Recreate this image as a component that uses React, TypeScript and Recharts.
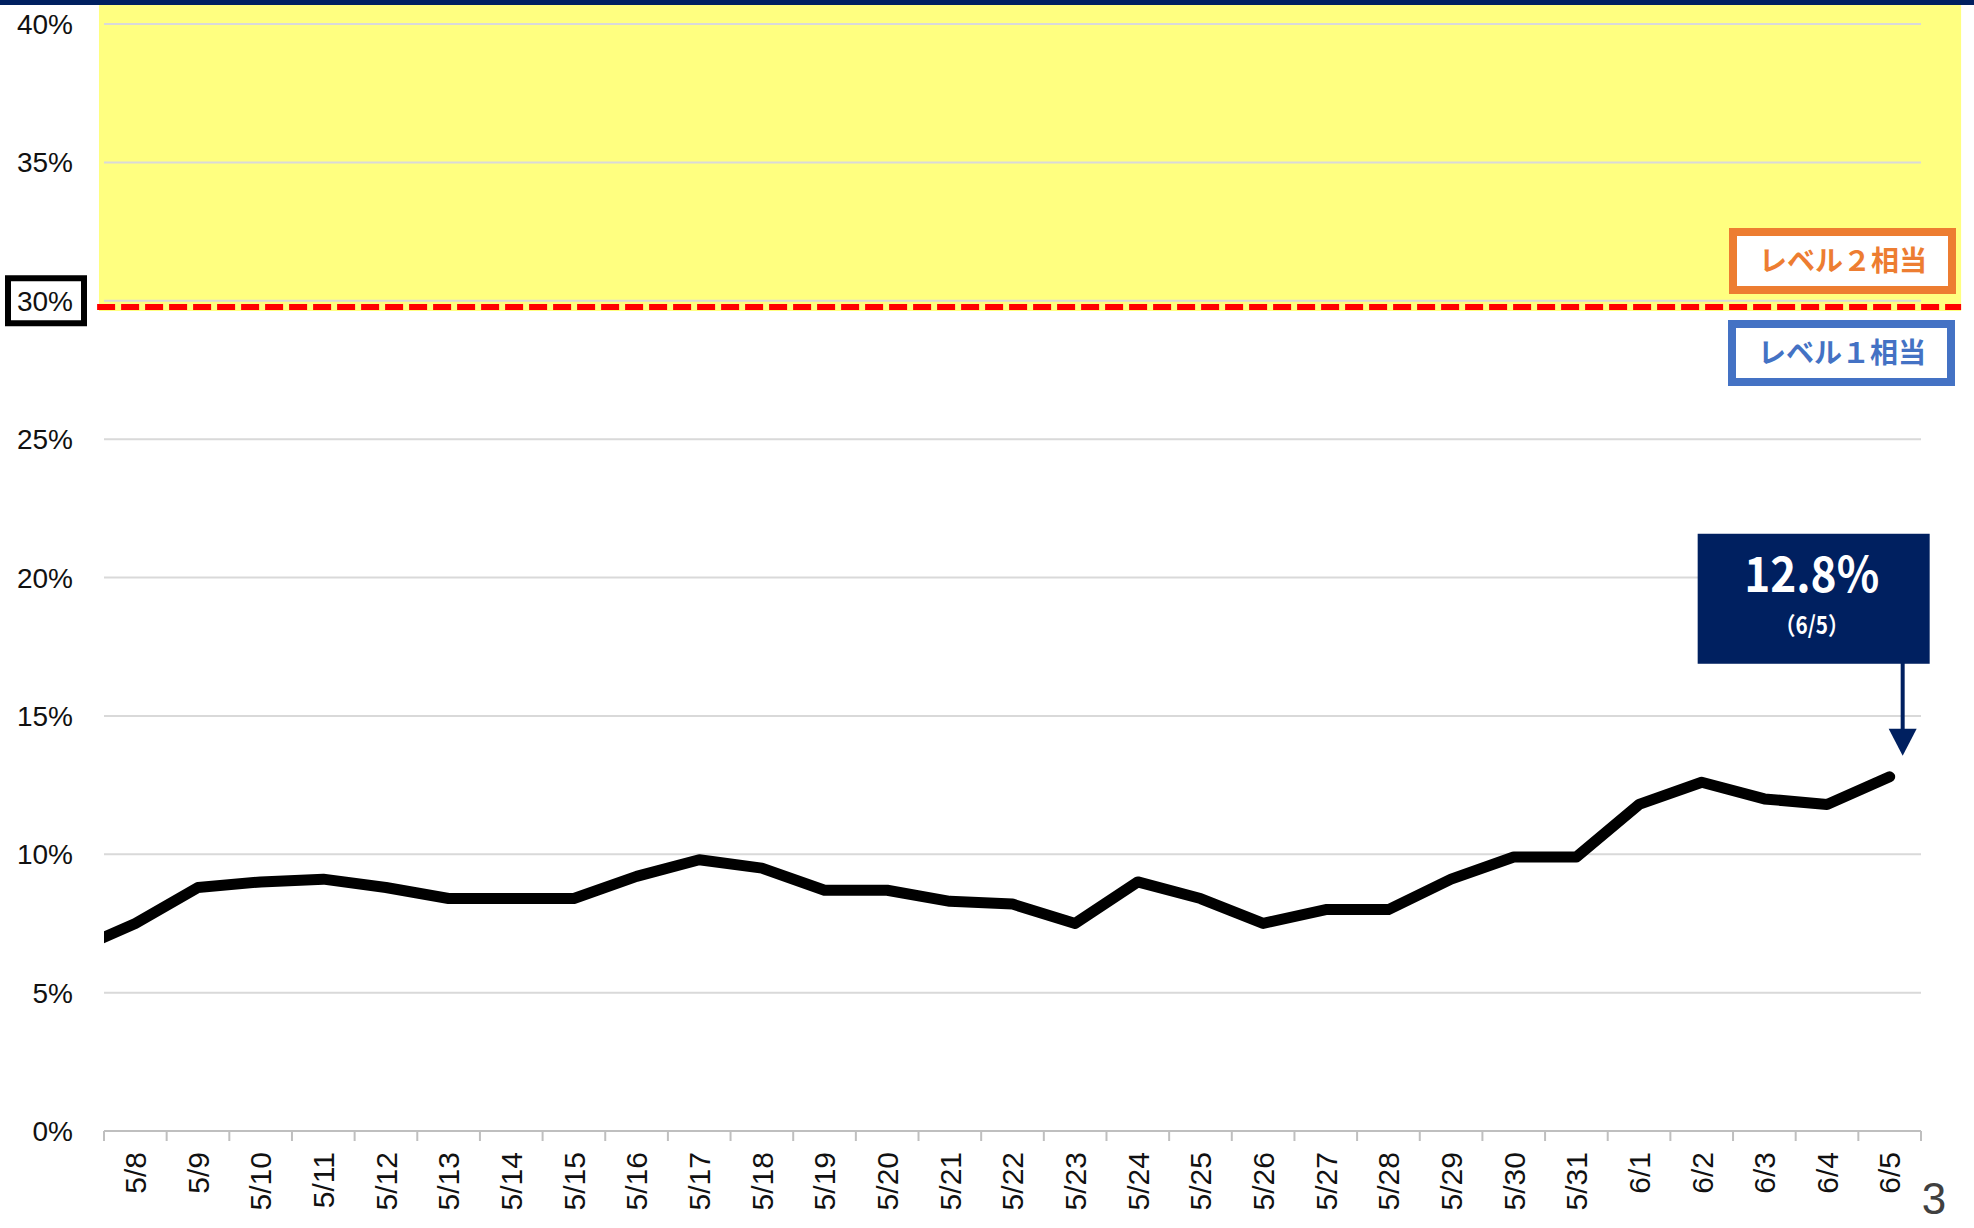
import {
  CartesianGrid,
  Line,
  LineChart,
  ReferenceArea,
  ReferenceDot,
  ReferenceLine,
  XAxis,
  YAxis,
} from 'recharts';

// first entry (5/7) sits just off the left edge; only its segment shows
const dates = [
  '5/7', '5/8', '5/9', '5/10', '5/11', '5/12', '5/13', '5/14', '5/15', '5/16',
  '5/17', '5/18', '5/19', '5/20', '5/21', '5/22', '5/23', '5/24', '5/25', '5/26',
  '5/27', '5/28', '5/29', '5/30', '5/31', '6/1', '6/2', '6/3', '6/4', '6/5',
];
const rates = [
  6.5, 7.5, 8.8, 9.0, 9.1, 8.8, 8.4, 8.4, 8.4, 9.2,
  9.8, 9.5, 8.7, 8.7, 8.3, 8.2, 7.5, 9.0, 8.4, 7.5,
  8.0, 8.0, 9.1, 9.9, 9.9, 11.8, 12.6, 12.0, 11.8, 12.8,
];
const yTicks = [0, 5, 10, 15, 20, 25, 30, 35, 40];
const boxedTick = 30;
const level2Label = 'レベル２相当';
const level1Label = 'レベル１相当';
const latestValue = '12.8%';
const latestDate = '（6/5）';
const pageNo = '3';

const W = 1974;
const H = 1228;
const Y_W = 104;
const X_H = 97;
const MARGIN = { top: 24, right: 53, bottom: 0, left: 0 };
const BAND = (W - Y_W - MARGIN.right) / (dates.length - 1);

const NAVY = '#002060';
const GRID = '#D9D9D9';
const AXIS_FONT = '"Liberation Sans", Arial, sans-serif';
const JP_FONT = '"Noto Sans CJK JP", "Noto Sans", sans-serif';

const data = dates.map((d, i) => ({ idx: i, date: d, rate: rates[i] }));
// tick marks sit on band edges, labels in the middle of each band
const xTicks = dates.map((_, i) => i + 0.5);

function YTick({ x, y, payload }: any) {
  const boxed = payload.value === boxedTick;
  return (
    <g>
      {boxed && (
        <rect x={x - 65} y={y - 22.5} width={76} height={45} fill="#fff" stroke="#000" strokeWidth={6} />
      )}
      <text x={x} y={y} dy="0.36em" textAnchor="end" fontFamily={AXIS_FONT} fontSize={28} fill="#111">
        {payload.value}%
      </text>
    </g>
  );
}

function XTick({ x, y, payload }: any) {
  const i = Math.round(payload.value + 0.5);
  if (i >= dates.length) return null;
  const cx = x + BAND / 2;
  return (
    <text
      x={cx}
      y={y}
      dy="0.36em"
      transform={`rotate(-90 ${cx} ${y})`}
      textAnchor="end"
      fontFamily={AXIS_FONT}
      fontSize={30}
      fill="#111"
    >
      {dates[i]}
    </text>
  );
}

function Callout({ cx, cy }: any) {
  const ax = cx + 13;
  const tx = cx - 78;
  return (
    <g>
      <rect x={cx - 192} y={cy - 243} width={232} height={130} fill={NAVY} />
      <line x1={ax} y1={cy - 114} x2={ax} y2={cy - 46} stroke={NAVY} strokeWidth={4} />
      <polygon points={`${ax - 14},${cy - 48} ${ax + 14},${cy - 48} ${ax},${cy - 21}`} fill={NAVY} />
      <text x={tx} y={cy - 185} textAnchor="middle" fill="#fff" fontFamily={JP_FONT} fontSize={48} fontWeight={700} textLength={135} lengthAdjust="spacingAndGlyphs">
        {latestValue}
      </text>
      <text x={tx} y={cy - 143} textAnchor="middle" fill="#fff" fontFamily={JP_FONT} fontSize={24} fontWeight={700} textLength={74} lengthAdjust="spacingAndGlyphs">
        {latestDate}
      </text>
    </g>
  );
}

function LevelBox({ x, y, color, label }: { x: number; y: number; color: string; label: string }) {
  return (
    <g>
      <rect x={x + 4} y={y + 4} width={219} height={58} fill="#fff" stroke={color} strokeWidth={8} />
      <text x={x + 114} y={y + 33} dy="0.36em" textAnchor="middle" fill={color} fontFamily={JP_FONT} fontSize={28} fontWeight={700}>
        {label}
      </text>
    </g>
  );
}

export default function App() {
  const last = data[data.length - 1];
  return (
    <div style={{ position: 'absolute', left: 0, top: 0, width: W, height: H, overflow: 'hidden', background: '#fff' }}>
      <LineChart width={W} height={H} data={data} margin={MARGIN}>
        <CartesianGrid vertical={false} stroke={GRID} strokeWidth={2} />
        <ReferenceArea
          x1={0.42}
          x2={30.14}
          y1={29.63}
          y2={40.7}
          ifOverflow="visible"
          fill="#FFFF80"
          fillOpacity={1}
          stroke="none"
        />
        {/* gridlines that run across the yellow band */}
        {yTicks
          .filter((t) => t >= boxedTick)
          .map((t) => (
            <ReferenceLine key={t} y={t} stroke={GRID} strokeWidth={2} />
          ))}
        <XAxis
          type="number"
          dataKey="idx"
          domain={[0.5, dates.length - 0.5]}
          allowDataOverflow
          ticks={xTicks}
          interval={0}
          height={X_H}
          axisLine={{ stroke: '#BFBFBF', strokeWidth: 2 }}
          tickLine={{ stroke: '#BFBFBF', strokeWidth: 2 }}
          tickSize={10}
          tickMargin={11}
          tick={<XTick />}
        />
        <YAxis
          domain={[0, 40]}
          ticks={yTicks}
          interval={0}
          width={Y_W}
          axisLine={false}
          tickLine={false}
          tickSize={0}
          tickMargin={31}
          tick={<YTick />}
        />
        <ReferenceLine
          segment={[
            { x: 0.39, y: 29.77 },
            { x: 30.14, y: 29.77 },
          ]}
          ifOverflow="visible"
          stroke="#FF0000"
          strokeWidth={6}
          strokeDasharray="18 6"
        />
        <Line
          type="linear"
          dataKey="rate"
          stroke="#000"
          strokeWidth={11}
          strokeLinejoin="round"
          strokeLinecap="round"
          dot={false}
          activeDot={false}
          isAnimationActive={false}
        />
        <ReferenceDot x={last.idx} y={last.rate} r={1} ifOverflow="visible" shape={(p: any) => <Callout {...p} />} />
      </LineChart>
      <svg width={W} height={H} style={{ position: 'absolute', left: 0, top: 0, pointerEvents: 'none' }}>
        <rect x={0} y={0} width={W} height={5} fill={NAVY} />
        <LevelBox x={1729} y={228} color="#ED7D31" label={level2Label} />
        <LevelBox x={1728} y={320} color="#4472C4" label={level1Label} />
        <text x={1934} y={1214} textAnchor="middle" fontFamily={AXIS_FONT} fontSize={44} fill="#404040">
          {pageNo}
        </text>
      </svg>
    </div>
  );
}
